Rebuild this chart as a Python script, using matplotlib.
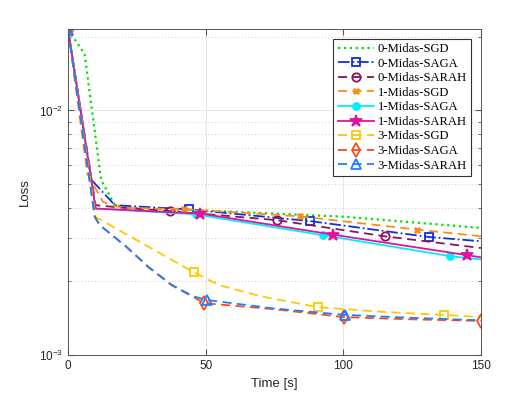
import matplotlib

matplotlib.use("Agg")
import matplotlib.pyplot as plt
from matplotlib.ticker import LogLocator, NullLocator, FixedLocator

# --- data (time in s, loss on log scale) ---
T_0SGD = [0, 6, 12, 17, 22, 50, 100, 150]
L_0SGD = [0.0214, 0.0170, 0.0052, 0.0041, 0.00400, 0.0039, 0.00368, 0.00331]

T_0SAGA = [0, 8.5, 17, 44, 88, 131, 150]
L_0SAGA = [0.0214, 0.0052, 0.0041, 0.00394, 0.00353, 0.00304, 0.00292]

T_0SARAH = [0, 10, 20, 37, 76, 115, 150]
L_0SARAH = [0.0214, 0.0041, 0.0040, 0.00388, 0.00356, 0.00306, 0.00274]

T_1SGD = [0, 7, 12.7, 16, 20, 42, 84.4, 126.6, 150]
L_1SGD = [0.0214, 0.0055, 0.00423, 0.00409, 0.0040, 0.00395, 0.00369, 0.00326, 0.00306]

T_1SAGA = [0, 10, 46.3, 92.7, 138.7, 150]
L_1SAGA = [0.0214, 0.00398, 0.00376, 0.00309, 0.00254, 0.00246]

T_1SARAH = [0, 10, 48.1, 96.1, 145.1, 150]
L_1SARAH = [0.0214, 0.00397, 0.00379, 0.00311, 0.00256, 0.00251]

T_3SGD = [0, 10, 45.7, 55, 70, 90.8, 115, 136.5, 150]
L_3SGD = [0.0214, 0.00367, 0.00218, 0.00193, 0.00174, 0.00157, 0.0015, 0.00146, 0.00143]

T_3SAGA = [0, 9.7, 11.5, 21.2, 29.1, 37.6, 45.4, 49.5, 75, 100.2, 125, 150]
L_3SAGA = [0.0214, 0.00367, 0.0034, 0.00277, 0.00229, 0.00193, 0.00173, 0.00163,
           0.00154, 0.00143, 0.0014, 0.00138]

T_3SARAH = [0, 9.7, 11.5, 21.2, 29.1, 37.6, 45.4, 50.3, 75, 100.5, 125, 148]
L_3SARAH = [0.0214, 0.00367, 0.0034, 0.00277, 0.0023, 0.00194, 0.00174, 0.00168,
            0.00155, 0.00146, 0.00142, 0.00139]

LABELS = ["0-Midas-SGD", "0-Midas-SAGA", "0-Midas-SARAH",
          "1-Midas-SGD", "1-Midas-SAGA", "1-Midas-SARAH",
          "3-Midas-SGD", "3-Midas-SAGA", "3-Midas-SARAH"]

plt.rcParams["font.family"] = "Liberation Sans"
plt.rcParams["mathtext.default"] = "regular"

fig = plt.figure(figsize=(5.32, 3.99), dpi=100)
ax = fig.add_axes([0.128, 0.110, 0.776, 0.817])

dash = (5, 3)
series = [
    (T_0SGD, L_0SGD, dict(color="#00e000", linestyle=":", lw=1.6)),
    (T_0SAGA, L_0SAGA, dict(color="#1030e0", linestyle="-.", marker="s", mfc="none", markevery=[0, 3, 4, 5])),
    (T_0SARAH, L_0SARAH, dict(color="#8c1559", dashes=dash, marker="o", mfc="none", markevery=[0, 3, 4, 5])),
    (T_1SGD, L_1SGD, dict(color="#ff8a1a", dashes=dash, marker="X", ms=5, mew=0.5, markevery=[0, 5, 6, 7])),
    (T_1SAGA, L_1SAGA, dict(color="#00eef8", linestyle="-", marker="o", ms=5, markevery=[0, 2, 3, 4])),
    (T_1SARAH, L_1SARAH, dict(color="#e0149a", linestyle="-", marker="*", ms=9, markevery=[0, 2, 3, 4])),
    (T_3SGD, L_3SGD, dict(color="#ffc800", dashes=dash, marker="s", mfc="none", markevery=[0, 2, 5, 7])),
    (T_3SAGA, L_3SAGA, dict(color="#ff4a1a", dashes=dash, marker="d", mfc="none", ms=7, markevery=[0, 7, 9, 11])),
    (T_3SARAH, L_3SARAH, dict(color="#1a80ff", dashes=dash, marker="^", mfc="none", ms=7, markevery=[0, 7, 9])),
]
for (t, l, style), label in zip(series, LABELS):
    kw = dict(lw=1.3, ms=6, mew=1.3)
    kw.update(style)
    ax.plot(t, l, label=label, **kw)

ax.set_yscale("log")
ax.set_xlim(0, 150)
ax.set_ylim(1e-3, 0.0215)
ax.xaxis.set_major_locator(FixedLocator([0, 50, 100, 150]))
ax.xaxis.set_minor_locator(NullLocator())
ax.yaxis.set_major_locator(LogLocator(base=10))
ax.yaxis.set_minor_locator(LogLocator(base=10, subs=range(2, 10)))

ax.grid(True, which="major", color="#e2e2e2", lw=0.6, linestyle="-")
ax.grid(True, which="minor", axis="y", color="#bbbbbb", lw=0.6, linestyle=(0, (1, 3)))
ax.set_axisbelow(True)

for sp in ax.spines.values():
    sp.set_color("#555555")
    sp.set_linewidth(0.7)
ax.tick_params(which="both", direction="in", top=True, right=True,
               colors="#555555", labelcolor="#262626", labelsize=8.5)
ax.tick_params(which="major", length=4)
ax.tick_params(which="minor", length=2.5)

ax.set_xlabel("Time [s]", fontsize=9.5, color="#262626")
ax.set_ylabel("Loss", fontsize=9.5, color="#262626", labelpad=6)

leg = ax.legend(loc="upper right", bbox_to_anchor=(0.976, 0.97),
                prop={"family": "Liberation Serif", "size": 9.1},
                frameon=True, fancybox=False, edgecolor="#333333", framealpha=1,
                handlelength=2.9, handletextpad=0.25, labelspacing=0.2,
                borderpad=0.35, borderaxespad=0.0)
leg.get_frame().set_linewidth(0.8)

fig.savefig("out.png", dpi=100)
